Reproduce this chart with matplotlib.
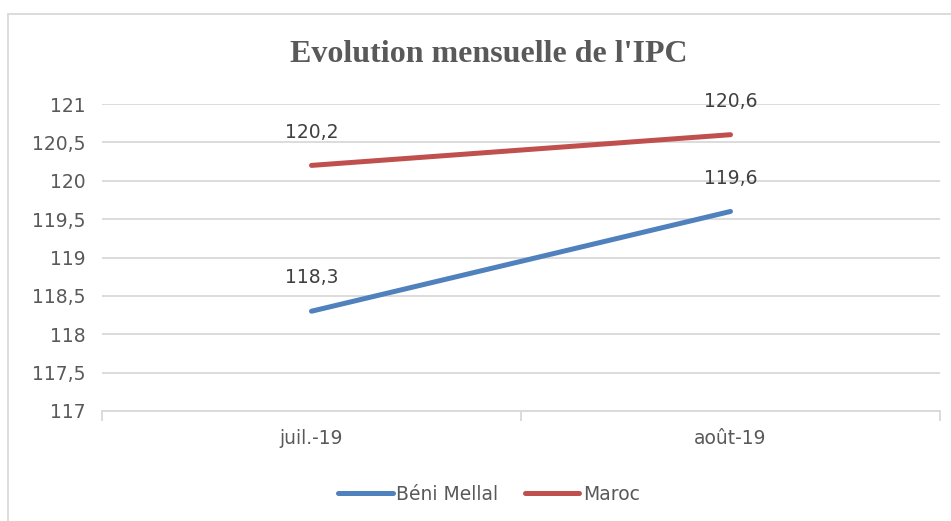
import numpy as np
import matplotlib.pyplot as plt
from matplotlib.patches import Rectangle

months = ["juil.-19", "août-19"]
beni_mellal = [118.3, 119.6]
maroc = [120.2, 120.6]
yticks = [117, 117.5, 118, 118.5, 119, 119.5, 120, 120.5, 121]

dark = "#404040"
grey = "#595959"
blue = "#4F81BD"
red = "#C0504D"
fs = 13.5

fig = plt.figure(figsize=(9.51, 5.21), dpi=100)
ax = fig.add_axes([102 / 951, 1 - 411 / 521, (940 - 102) / 951, (411 - 104) / 521])

# outer chart frame (partly off the page, like the original crop)
fig.patches.append(Rectangle((8 / 951, -0.05), 1.0, 1 - 14 / 521 + 0.05,
                             transform=fig.transFigure, fill=False,
                             edgecolor="#D9D9D9", linewidth=1.3))

x = np.arange(len(months))
ax.plot(x, beni_mellal, color=blue, linewidth=3.6, solid_capstyle="round", label="Béni Mellal")
ax.plot(x, maroc, color=red, linewidth=3.6, solid_capstyle="round", label="Maroc")

for series in (beni_mellal, maroc):
    for xi, v in zip(x, series):
        ax.annotate(f"{v:.1f}".replace(".", ","), (xi, v), xytext=(0, 24),
                    textcoords="offset points", ha="center", va="center",
                    fontsize=fs, color=dark)

ax.set_xlim(-0.5, 1.5)
ax.set_ylim(117, 121)
ax.set_yticks(yticks)
ax.set_yticklabels([f"{t:g}".replace(".", ",") for t in yticks])
ax.set_xticks(x)
ax.set_xticklabels(months)
ax.set_xticks([-0.5, 0.5, 1.5], minor=True)
ax.tick_params(axis="x", which="major", length=0, pad=13)
ax.tick_params(axis="x", which="minor", length=7, color="#D9D9D9", width=1.3)
ax.tick_params(axis="y", length=0, pad=12)
for lab in ax.get_xticklabels() + ax.get_yticklabels():
    lab.set_fontsize(fs)
    lab.set_color(grey)

ax.grid(axis="y", color="#D9D9D9", linewidth=1.3)
ax.set_axisbelow(True)
for s in ["top", "right", "left"]:
    ax.spines[s].set_visible(False)
ax.spines["bottom"].set_color("#D9D9D9")
ax.spines["bottom"].set_linewidth(1.3)

fig.text(489 / 951, 1 - 55 / 521, "Evolution mensuelle de l'IPC", ha="center", va="center",
         fontsize=23, fontweight="bold", color=grey, family="Liberation Serif")

fig.legend(loc="center", bbox_to_anchor=(489 / 951, 1 - 494 / 521), ncol=2, frameon=False,
           prop={"size": fs}, handlelength=2.9, columnspacing=1.4,
           handletextpad=0.2, labelcolor=grey)

plt.savefig("out.png", dpi=100)
